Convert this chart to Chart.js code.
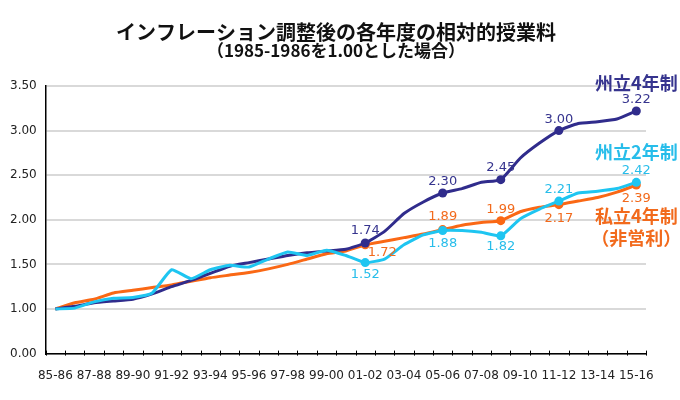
<!DOCTYPE html>
<html lang="ja">
<head>
<meta charset="utf-8">
<title>インフレーション調整後の各年度の相対的授業料</title>
<script src="https://cdn.jsdelivr.net/npm/chart.js@4.4.1/dist/chart.umd.min.js"></script>
<style>
  html, body { margin: 0; padding: 0; background: #fff; }
</style>
</head>
<body>
<canvas id="my-chart" width="680" height="400"></canvas>
<script>
'use strict';

// *********** DATA ****************

let years = ['85-86','86-87','87-88','88-89','89-90','90-91','91-92','92-93','93-94','94-95',
  '95-96','96-97','97-98','98-99','99-00','00-01','01-02','02-03','03-04','04-05',
  '05-06','06-07','07-08','08-09','09-10','10-11','11-12','12-13','13-14','14-15','15-16'];

let state4 = [1.00,1.03,1.07,1.09,1.11,1.17,1.25,1.32,1.40,1.48,
  1.52,1.56,1.60,1.63,1.65,1.67,1.74,1.87,2.07,2.20,
  2.30,2.35,2.42,2.45,2.69,2.86,3.00,3.08,3.10,3.13,3.22];

let state2 = [1.00,1.01,1.08,1.12,1.13,1.18,1.44,1.34,1.44,1.49,
  1.47,1.56,1.64,1.60,1.66,1.60,1.52,1.56,1.72,1.83,
  1.88,1.88,1.86,1.82,2.01,2.12,2.21,2.30,2.32,2.35,2.42];

let private4 = [1.00,1.07,1.11,1.18,1.21,1.24,1.27,1.31,1.35,1.38,
  1.41,1.45,1.50,1.56,1.62,1.65,1.72,1.76,1.80,1.84,
  1.89,1.94,1.97,1.99,2.09,2.14,2.17,2.21,2.25,2.31,2.39];

// years that get a marker and a value label
let markIndex = [16, 20, 23, 26, 30];

// y axis: the 0.00 - 0.50 range is cut out of the original chart
let yTickLabels = ['0.00','1.00','1.50','2.00','2.50','3.00','3.50'];

let titleText = 'インフレーション調整後の各年度の相対的授業料';
let subtitleText = '（1985-1986を1.00とした場合）';
let seriesNames = [['州立4年制'], ['州立2年制'], ['私立4年制', '（非営利）']];

// ************ CANVAS REFERENCE ****************
let ctx = document.getElementById('my-chart').getContext('2d');

// ********** HELPERS ********************

function makeSeries(name, data, color, textColor, order, labelOffsets, nameOffset, nameLines) {
  return {
    label: name,
    data: data,
    borderColor: color,
    backgroundColor: color,
    borderWidth: 3,
    tension: 0.15,
    order: order,
    pointRadius: (c) => markIndex.includes(c.dataIndex) ? 4.5 : 0,
    pointHoverRadius: 0,
    pointBorderWidth: 0,
    pointBackgroundColor: color,
    textColor: textColor,
    labelOffsets: labelOffsets,
    nameOffset: nameOffset,
    nameLines: nameLines
  };
}

// titles, value labels, series names and the little ticks on the x axis
let annotatePlugin = {
  id: 'annotate',
  afterDatasetsDraw(chart) {
    let c = chart.ctx;
    let area = chart.chartArea;
    let xs = chart.scales.x;
    let step = xs.getPixelForValue(1) - xs.getPixelForValue(0);

    c.save();
    c.textAlign = 'center';
    c.textBaseline = 'middle';
    c.fillStyle = '#111';
    c.font = 'bold 20px "Noto Sans CJK JP"';
    c.fillText(titleText, 336, 32);
    c.font = 'bold 17px "Noto Sans CJK JP"';
    c.fillText(subtitleText, 336, 51);

    c.strokeStyle = '#000';
    c.lineWidth = 1;
    for (let i = 0; i <= years.length; i++) {
      let x = Math.round(xs.getPixelForValue(i) - step / 2) + 0.5;
      c.beginPath();
      c.moveTo(x, area.bottom - 3);
      c.lineTo(x, area.bottom + 2);
      c.stroke();
    }

    chart.data.datasets.forEach((ds, d) => {
      let meta = chart.getDatasetMeta(d);
      c.fillStyle = ds.textColor;
      c.font = '13px "DejaVu Sans"';
      markIndex.forEach((idx, k) => {
        let pt = meta.data[idx];
        let off = ds.labelOffsets[k];
        c.fillText(ds.data[idx].toFixed(2), pt.x + off[0], pt.y + off[1]);
      });
      let last = meta.data[ds.data.length - 1];
      c.font = 'bold 18px "Noto Sans CJK JP"';
      ds.nameLines.forEach((line, j) => {
        c.fillText(line, last.x + ds.nameOffset[0], last.y + ds.nameOffset[1] + j * 22);
      });
    });
    c.restore();
  }
};

// *********** RENDER CHART ****************

let myChartObj = {
  type: 'line',
  data: {
    labels: years,
    datasets: [
      makeSeries('州立4年制', state4, '#302c8c', '#36348e', 2,
        [[0,-12],[0,-11],[0,-12],[0,-11],[0,-11]], [0,-28], seriesNames[0]),
      makeSeries('州立2年制', state2, '#1ec5f1', '#27bdea', 1,
        [[0,12],[0,13],[0,11],[0,-11],[0,-12]], [0,-30], seriesNames[1]),
      makeSeries('私立4年制（非営利）', private4, '#fa6815', '#f26a1c', 3,
        [[17,8],[0,-13],[0,-11],[0,14],[0,14]], [0,31], seriesNames[2])
    ]
  },
  options: {
    responsive: false,
    animation: false,
    layout: {
      padding: { left: 1, right: 34, top: 86, bottom: 2 }
    },
    plugins: {
      legend: { display: false },
      tooltip: { enabled: false },
      title: { display: false }
    },
    scales: {
      x: {
        offset: true,
        grid: { display: false, drawTicks: false },
        border: { display: true, color: '#000', width: 1.5 },
        ticks: {
          autoSkip: false,
          maxRotation: 0,
          padding: 15,
          color: '#222',
          font: { family: '"DejaVu Sans"', size: 12 },
          callback: (val, i) => i % 2 === 0 ? years[i] : ''
        }
      },
      y: {
        min: 0.5,
        max: 3.5,
        grid: { color: '#d9d9d9', lineWidth: 2, drawTicks: false },
        border: { display: true, color: '#000', width: 1.5 },
        ticks: {
          stepSize: 0.5,
          padding: 9,
          color: '#222',
          font: { family: '"DejaVu Sans"', size: 12 },
          callback: (val, i) => yTickLabels[i]
        }
      }
    }
  },
  plugins: [annotatePlugin]
};

new Chart(ctx, myChartObj);
</script>
</body>
</html>
